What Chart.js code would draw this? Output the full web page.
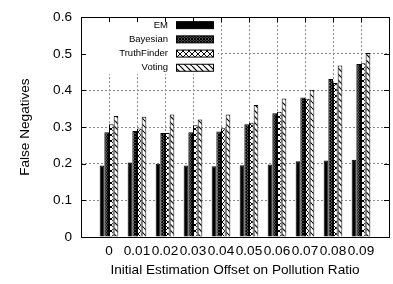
<!DOCTYPE html>
<html>
<head>
<meta charset="utf-8">
<script src="https://cdn.jsdelivr.net/npm/chart.js@4/dist/chart.umd.min.js"></script>
<style>
  html, body { margin: 0; padding: 0; background: #fff; }
  canvas { display: block; }
</style>
</head>
<body>
<canvas id="c" width="393" height="284"></canvas>
<script>
// chart data
const xLabels = ["0", "0.01", "0.02", "0.03", "0.04", "0.05", "0.06", "0.07", "0.08", "0.09"];
const seriesNames = ["EM", "Bayesian", "TruthFinder", "Voting"];
const emValues = [0.195, 0.203, 0.200, 0.195, 0.193, 0.196, 0.198, 0.207, 0.209, 0.211];
const bayesianValues = [0.286, 0.289, 0.284, 0.286, 0.288, 0.308, 0.338, 0.381, 0.431, 0.472];
const truthFinderValues = [0.308, 0.296, 0.284, 0.305, 0.297, 0.312, 0.342, 0.377, 0.420, 0.474];
const votingValues = [0.330, 0.328, 0.334, 0.321, 0.334, 0.360, 0.378, 0.402, 0.468, 0.502];
const yTicks = [0, 0.1, 0.2, 0.3, 0.4, 0.5, 0.6];

const FONT = "'Liberation Sans', Arial, Helvetica, sans-serif";

// fill patterns, gnuplot style
function tile(size, draw){
  const c = document.createElement("canvas"); c.width = size; c.height = size;
  const g = c.getContext("2d");
  g.fillStyle = "#fff"; g.fillRect(0,0,size,size);
  g.strokeStyle = "#000"; g.fillStyle = "#000";
  draw(g, size);
  return q("#c").getContext("2d").createPattern(c, "repeat");
}
function cross(lw){
  return (g, s) => {
    g.lineWidth = lw;
    for(let k=-1;k<=1;k++){
      g.beginPath(); g.moveTo(k*s,0); g.lineTo(k*s+s,s); g.stroke();
      g.beginPath(); g.moveTo(k*s+s,0); g.lineTo(k*s,s); g.stroke();
    }
  };
}
function q(s){ return document.querySelector(s); }

const fills = [
  "#000",
  tile(3, cross(1.3)),
  tile(6, cross(1)),
  tile(6, (g, s) => {
    g.lineWidth = 1.2;
    for(let k=-1;k<=1;k++){ g.beginPath(); g.moveTo(k*s,0); g.lineTo(k*s+s,s); g.stroke(); }
  })
];

const seriesValues = [emValues, bayesianValues, truthFinderValues, votingValues];
const datasets = seriesNames.map((name, i) => ({
  label: name,
  data: seriesValues[i].map((v, j) => ({x: j, y: v})),
  backgroundColor: fills[i],
  borderColor: "#000",
  borderWidth: 1,
  borderSkipped: "start"
}));

// legend inside the plot, on a white box, plus frame and inward tics
const gnuplotLook = {
  id: "gnuplotLook",
  beforeDatasetsDraw(chart){
    const ctx = chart.ctx, a = chart.chartArea;
    ctx.save();
    ctx.fillStyle = "#fff";
    ctx.fillRect(a.left+1, a.top+1, 136, 56);
    ctx.font = "9.5px " + FONT;
    ctx.textAlign = "right"; ctx.textBaseline = "middle";
    chart.data.datasets.forEach((ds, i) => {
      const y = a.top + 8 + i*14.2;
      ctx.fillStyle = "#000";
      ctx.fillText(ds.label, a.left + 87, y);
      ctx.fillStyle = ds.backgroundColor;
      ctx.fillRect(a.left + 95.5, y - 3.5, 37, 7);
      ctx.strokeStyle = "#000"; ctx.lineWidth = 1;
      ctx.strokeRect(a.left + 95.5, y - 3.5, 37, 7);
    });
    ctx.restore();
  },
  afterDatasetsDraw(chart){
    const ctx = chart.ctx, a = chart.chartArea;
    const xs = chart.scales.x, ys = chart.scales.y;
    ctx.save();
    ctx.strokeStyle = "#000"; ctx.lineWidth = 1;
    ctx.beginPath();
    yTicks.forEach(v => {
      const y = Math.round(ys.getPixelForValue(v)) + 0.5;
      ctx.moveTo(a.left, y); ctx.lineTo(a.left + 5, y);
      ctx.moveTo(a.right, y); ctx.lineTo(a.right - 5, y);
    });
    xLabels.forEach((l, i) => {
      const x = Math.round(xs.getPixelForValue(i)) + 0.5;
      ctx.moveTo(x, a.top); ctx.lineTo(x, a.top + 5);
    });
    ctx.stroke();
    ctx.strokeRect(Math.round(a.left)+0.5, Math.round(a.top)+0.5, Math.round(a.right-a.left), Math.round(a.bottom-a.top));
    ctx.restore();
  }
};

new Chart(q("#c"), {
  type: "bar",
  data: { datasets },
  options: {
    responsive: false,
    animation: false,
    devicePixelRatio: 1,
    layout: { padding: { top: 9, right: 4, left: 0, bottom: 0 } },
    plugins: { legend: { display: false }, tooltip: { enabled: false } },
    datasets: { bar: { categoryPercentage: 4/6, barPercentage: 1 } },
    scales: {
      x: {
        type: "linear",
        min: -1, max: 10,
        offset: false,
        afterBuildTicks: s => { s.ticks = xLabels.map((l, i) => ({value: i})); },
        afterFit: s => { s.height = 47; },
        ticks: {
          autoSkip: false, maxRotation: 0, padding: 6,
          color: "#000", font: { family: FONT, size: 13.6 },
          callback: (v) => xLabels[v]
        },
        grid: { offset: false, color: "#888", lineWidth: 1, drawTicks: false },
        border: { display: false, dash: [2, 2] },
        title: { display: true, text: "Initial Estimation Offset on Pollution Ratio",
          color: "#000", font: { family: FONT, size: 13.6 }, padding: { top: 0, bottom: 6 } }
      },
      y: {
        min: 0, max: 0.6,
        afterBuildTicks: s => { s.ticks = yTicks.map(v => ({value: v})); },
        afterFit: s => { s.width = 81; },
        ticks: { padding: 9, color: "#000", font: { family: FONT, size: 13.6 } },
        grid: { color: "#888", lineWidth: 1, drawTicks: false },
        border: { display: false, dash: [2, 2] },
        title: { display: true, text: "False Negatives",
          color: "#000", font: { family: FONT, size: 13.6 }, padding: { top: 17, bottom: 0 } }
      }
    }
  },
  plugins: [gnuplotLook]
});
</script>
</body>
</html>
